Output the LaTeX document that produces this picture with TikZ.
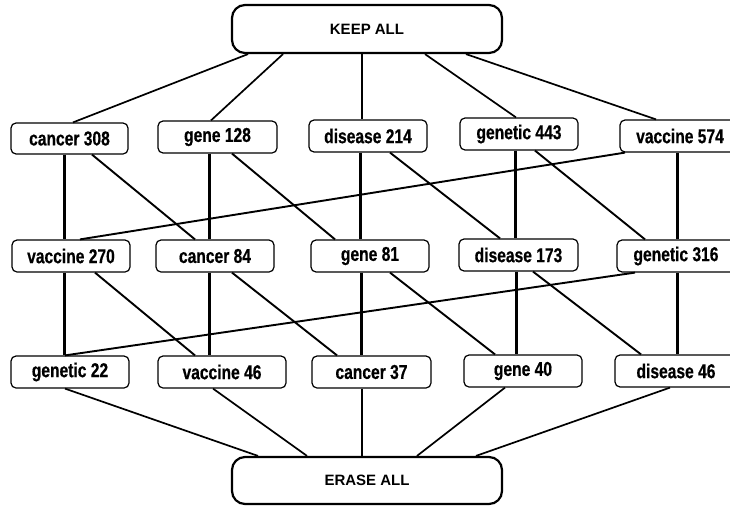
\documentclass[tikz,border=0pt]{standalone}
\usepackage{fontspec}
\setmainfont{Liberation Sans}[FakeStretch=0.78,BoldFeatures={FakeBold=0.6}]
\newfontfamily\bigfont{Liberation Sans}
\begin{document}
\begin{tikzpicture}[x=1pt,y=-1pt,
  term/.style={draw,line width=1.2pt,rounded corners=5pt,inner sep=0pt,minimum height=32pt,
    font=\fontsize{20}{22}\selectfont\bfseries},
  endbox/.style={draw,line width=2.2pt,rounded corners=13pt,inner sep=0pt,minimum width=270pt,minimum height=48pt,
    font=\bigfont\fontsize{15}{17}\selectfont\bfseries},
  vert/.style={line width=3pt},
  diag/.style={line width=1.9pt},
  outer/.style={line width=1.7pt}]
\clip (0,0) rectangle (730,506);
\fill[white] (0,0) rectangle (730,506);
% top and bottom
\node[endbox] (keep) at (367,29) {KEEP ALL};
\node[endbox,minimum height=47pt] (erase) at (367,480.5) {ERASE ALL};
% row 1
\node[term,minimum width=117pt,minimum height=31pt] (c308) at (69.5,138.5) {cancer 308};
\node[term,minimum width=119pt] (g128) at (217.5,137) {gene 128};
\node[term,minimum width=118pt] (d214) at (368,136) {disease 214};
\node[term,minimum width=118pt] (gt443) at (519,134) {genetic 443};
\node[term,minimum width=120pt] (v574) at (680,136) {vaccine 574};
% row 2
\node[term,minimum width=118pt] (v270) at (71,256) {vaccine 270};
\node[term,minimum width=118pt] (c84) at (215,256) {cancer 84};
\node[term,minimum width=118pt] (g81) at (370,256) {gene 81};
\node[term,minimum width=119pt] (d173) at (518.5,255) {disease 173};
\node[term,minimum width=118pt] (gt316) at (676,256) {genetic 316};
% row 3
\node[term,minimum width=118pt] (gt22) at (70,372) {genetic 22};
\node[term,minimum width=128pt] (v46) at (222,372) {vaccine 46};
\node[term,minimum width=119pt] (c37) at (371.5,372) {cancer 37};
\node[term,minimum width=118pt] (g40) at (523,371) {gene 40};
\node[term,minimum width=122pt] (d46) at (676,371) {disease 46};
% KEEP ALL edges
\draw[outer] ([xshift=-119pt]keep.south) -- ([xshift=3.5pt]c308.north);
\draw[outer] ([xshift=-84pt]keep.south) -- ([xshift=-6.5pt]g128.north);
\draw[outer,line width=2.1pt] ([xshift=-5pt]keep.south) -- ([xshift=-6pt]d214.north);
\draw[outer] ([xshift=58pt]keep.south) -- ([xshift=-3pt]gt443.north);
\draw[outer] ([xshift=99pt]keep.south) -- ([xshift=-24pt]v574.north);
% row 1 -> row 2
\draw[vert] ([xshift=-5.5pt]c308.south) -- ([xshift=-7pt]v270.north);
\draw[diag] ([xshift=22.5pt]c308.south) -- ([xshift=-20pt]c84.north);
\draw[vert] ([xshift=-8.5pt]g128.south) -- ([xshift=-6pt]c84.north);
\draw[diag] ([xshift=14.5pt]g128.south) -- ([xshift=-35pt]g81.north);
\draw[vert] ([xshift=-8pt]d214.south) -- ([xshift=-10pt]g81.north);
\draw[diag] ([xshift=22pt]d214.south) -- ([xshift=-18.5pt]d173.north);
\draw[vert] ([xshift=-4pt]gt443.south) -- ([xshift=-3.5pt]d173.north);
\draw[diag] ([xshift=16pt]gt443.south) -- ([xshift=-31pt]gt316.north);
\draw[vert] ([xshift=-3pt]v574.south) -- ([xshift=1pt]gt316.north);
\draw[diag] ([xshift=-55pt]v574.south) -- ([xshift=9pt]v270.north);
% row 2 -> row 3
\draw[vert] ([xshift=-7pt]v270.south) -- ([xshift=-6pt]gt22.north);
\draw[diag] ([xshift=24pt]v270.south) -- ([xshift=-27pt]v46.north);
\draw[vert] ([xshift=-6pt]c84.south) -- ([xshift=-13pt]v46.north);
\draw[diag] ([xshift=17pt]c84.south) -- ([xshift=-34.5pt]c37.north);
\draw[vert] ([xshift=-9pt]g81.south) -- ([xshift=-10.5pt]c37.north);
\draw[diag] ([xshift=20pt]g81.south) -- ([xshift=-28pt]g40.north);
\draw[vert] ([xshift=-2.5pt]d173.south) -- ([xshift=-7pt]g40.north);
\draw[diag] ([xshift=14.5pt]d173.south) -- ([xshift=-35pt]d46.north);
\draw[vert] ([xshift=1pt]gt316.south) -- ([xshift=1pt]d46.north);
\draw[diag] ([xshift=-41pt]gt316.south) -- ([xshift=-5pt]gt22.north);
% row 3 -> ERASE ALL
\draw[outer] ([xshift=-5pt]gt22.south) -- ([xshift=-109pt]erase.north);
\draw[outer] ([xshift=-9pt]v46.south) -- ([xshift=-60pt]erase.north);
\draw[outer,line width=2.1pt] ([xshift=-9.5pt]c37.south) -- ([xshift=-5pt]erase.north);
\draw[outer] ([xshift=-18pt]g40.south) -- ([xshift=50pt]erase.north);
\draw[outer] ([xshift=-6pt]d46.south) -- ([xshift=109pt]erase.north);
\end{tikzpicture}
\end{document}
